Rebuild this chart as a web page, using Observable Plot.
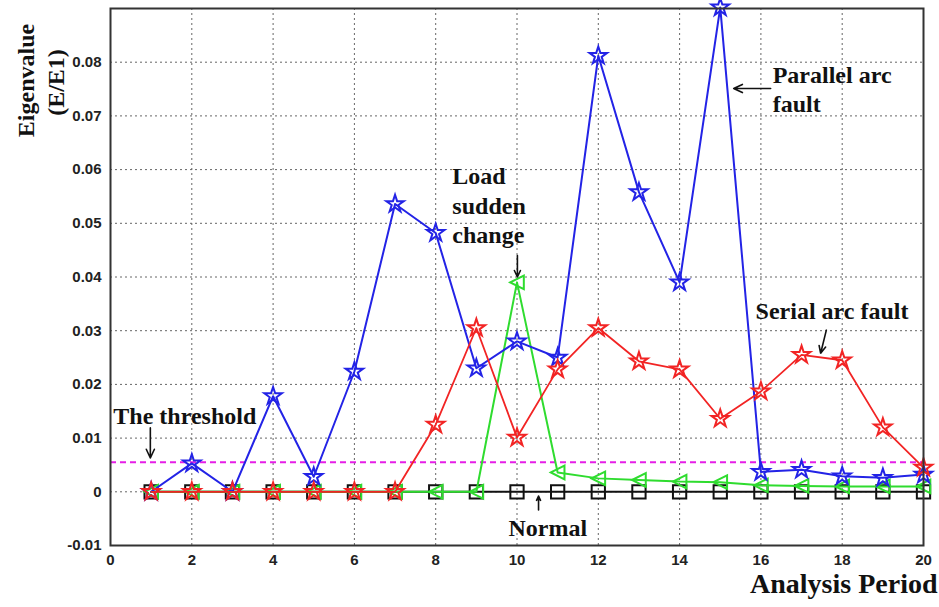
<!DOCTYPE html>
<html><head><meta charset="utf-8">
<script src="https://cdn.jsdelivr.net/npm/d3@7"></script>
<script src="https://cdn.jsdelivr.net/npm/@observablehq/plot@0.6"></script>
<style>body{margin:0;background:#fff}#chart{width:939px;height:607px}</style>
</head><body><div id="chart"></div><script>
// ---- data ----
const periods = [1,2,3,4,5,6,7,8,9,10,11,12,13,14,15,16,17,18,19,20];
const parallelArc = [0,0.0053,0,0.0178,0.0028,0.0224,0.0536,0.0482,0.0230,0.0280,0.0250,0.0812,0.0558,0.0390,0.0902,0.0037,0.0041,0.0029,0.0026,0.0032];
const serialArc   = [0,0,0,0,0,0,0,0.0125,0.0305,0.0101,0.0228,0.0305,0.0243,0.0228,0.0136,0.0187,0.0255,0.0245,0.0120,0.0045];
const loadChange  = [0,0,0,0,0,0,0,0,0,0.0390,0.0036,0.0025,0.0022,0.0019,0.0018,0.0012,0.0011,0.0010,0.0010,0.0010];
const normal      = [0,0,0,0,0,0,0,0,0,0,0,0,0,0,0,0,0,0,0,0];
const threshold = 0.0055;
const xTicks = [0,2,4,6,8,10,12,14,16,18,20];
const yTicks = [-0.01,0,0.01,0.02,0.03,0.04,0.05,0.06,0.07,0.08];

// annotation texts and positions (data units)
const noteText = ["Parallel arc\nfault","Load\nsudden\nchange","Serial arc fault","The threshold","Normal"];
const noteX    = [16.29, 8.41, 15.87, 0.07, 9.79];
const noteY    = [0.0800, 0.0611, 0.0360, 0.0165, -0.0043];
const arrX1 = [16.24, 10.01, 17.61, 0.98, 10.53];
const arrY1 = [0.0751, 0.0440, 0.0301, 0.0119, -0.0034];
const arrX2 = [15.33, 10.01, 17.47, 0.98, 10.53];
const arrY2 = [0.0751, 0.0400, 0.0258, 0.0063, -0.0008];

const yLabelLines = ["Eigenvalue", "(E/E1)"];
const xLabel = "Analysis Period";

// ---- build tables ----
const rows = (vals) => periods.map((p, i) => ({x: p, y: vals[i]}));
const notes = noteText.map((t, i) => ({t, x: noteX[i], y: noteY[i]}));
const arrows = arrX1.map((_, i) => ({x1: arrX1[i], y1: arrY1[i], x2: arrX2[i], y2: arrY2[i]}));

const triLeft = {draw(ctx, size) { const h = Math.sqrt(size) * 0.55; ctx.moveTo(-h, 0); ctx.lineTo(h, -h); ctx.lineTo(h, h); ctx.closePath(); }};

const serif = "'Liberation Serif', 'Times New Roman', serif";
const blue = "#2323e6", red = "#f22424", green = "#2fdc2f";

const chart = Plot.plot({
  width: 939, height: 607,
  marginLeft: 110, marginRight: 16, marginTop: 8, marginBottom: 62,
  style: {fontFamily: "'Liberation Sans', Arial, sans-serif", fontWeight: "bold", fontSize: "15px", color: "#222", background: "#fff"},
  x: {domain: [0, 20]},
  y: {domain: [-0.01, 0.09]},
  marks: [
    Plot.gridX(xTicks, {stroke: "#666", strokeOpacity: 1, strokeDasharray: "2,3"}),
    Plot.gridY(yTicks, {stroke: "#666", strokeOpacity: 1, strokeDasharray: "2,3"}),
    Plot.axisX(xTicks, {tickSize: 0, tickPadding: 9, label: null, tickFormat: d => String(d)}),
    Plot.axisY(yTicks, {tickSize: 0, tickPadding: 9, label: null, tickFormat: d => d === 0 ? "0" : d.toFixed(2)}),
    Plot.ruleY([threshold], {stroke: "#e61ee6", strokeWidth: 2, strokeDasharray: "6,4"}),
    // Normal
    Plot.line(rows(normal), {x: "x", y: "y", stroke: "#111", strokeWidth: 2}),
    Plot.dot(rows(normal), {x: "x", y: "y", symbol: "square", r: 7.5, stroke: "#111", strokeWidth: 2, fill: "none"}),
    // Load sudden change
    Plot.line(rows(loadChange), {x: "x", y: "y", stroke: green, strokeWidth: 2}),
    Plot.dot(rows(loadChange), {x: "x", y: "y", symbol: triLeft, r: 7, stroke: green, strokeWidth: 2, fill: "none"}),
    // Parallel arc fault
    Plot.line(rows(parallelArc), {x: "x", y: "y", stroke: blue, strokeWidth: 2}),
    Plot.dot(rows(parallelArc), {x: "x", y: "y", symbol: "star", r: 5.5, stroke: blue, strokeWidth: 2, fill: "none"}),
    // Serial arc fault
    Plot.line(rows(serialArc), {x: "x", y: "y", stroke: red, strokeWidth: 1.8}),
    Plot.dot(rows(serialArc), {x: "x", y: "y", symbol: "star", r: 5.5, stroke: red, strokeWidth: 2, fill: "none"}),
    Plot.frame({stroke: "#333", strokeWidth: 2}),
    // annotations
    Plot.text(notes, {x: "x", y: "y", text: "t", textAnchor: "start", lineAnchor: "top", lineHeight: 1.22, fontFamily: serif, fontSize: 24, fontWeight: "bold", fill: "#111"}),
    Plot.arrow(arrows, {x1: "x1", y1: "y1", x2: "x2", y2: "y2", stroke: "#111", strokeWidth: 1.6, headLength: 9, headAngle: 50}),
    // axis labels
    Plot.text([yLabelLines[0]], {frameAnchor: "top-left", dx: -84, dy: 72, rotate: -90, textAnchor: "middle", lineAnchor: "middle", fontFamily: serif, fontSize: 24, fontWeight: "bold", fill: "#111"}),
    Plot.text([yLabelLines[1]], {frameAnchor: "top-left", dx: -54, dy: 74, rotate: -90, textAnchor: "middle", lineAnchor: "middle", fontFamily: serif, fontSize: 24, fontWeight: "bold", fill: "#111"}),
    Plot.text([xLabel], {frameAnchor: "bottom-right", dx: 14, dy: 39, textAnchor: "end", lineAnchor: "middle", fontFamily: serif, fontSize: 28, fontWeight: "bold", fill: "#111"})
  ]
});
document.getElementById("chart").appendChild(chart);
</script></body></html>
